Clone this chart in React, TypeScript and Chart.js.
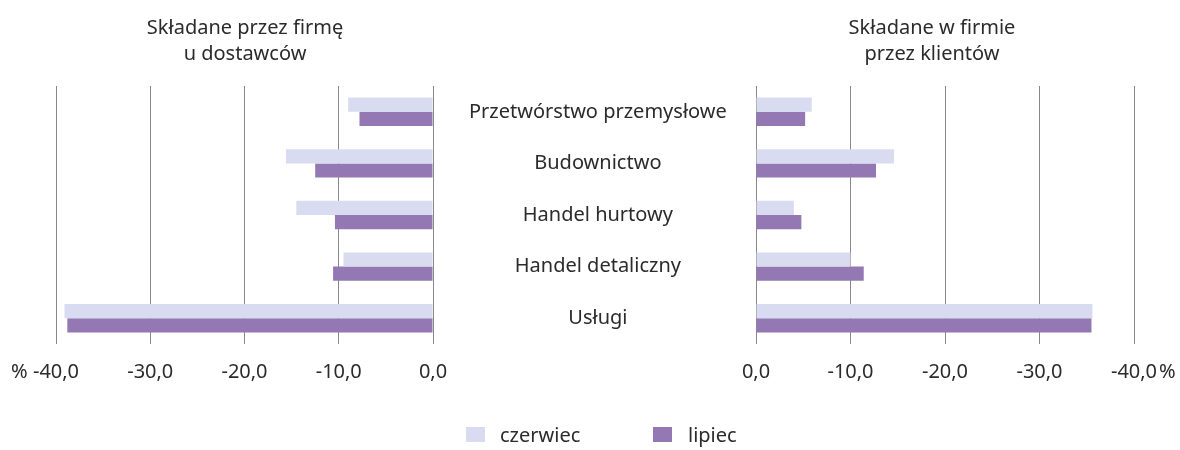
import React, { useEffect, useRef } from 'react';
import { Chart, registerables } from 'chart.js';

Chart.register(...registerables);

const categories = [
  'Przetwórstwo przemysłowe',
  'Budownictwo',
  'Handel hurtowy',
  'Handel detaliczny',
  'Usługi',
];
const seriesNames = ['czerwiec', 'lipiec'];
const suppliersJune = [-9.0, -15.6, -14.5, -9.5, -39.1];
const suppliersJuly = [-7.8, -12.5, -10.4, -10.6, -38.8];
const clientsJune = [-5.9, -14.6, -4.0, -10.0, -35.6];
const clientsJuly = [-5.2, -12.7, -4.8, -11.4, -35.5];
const axisMin = -40;
const axisMax = 0;
const axisStep = 10;
const leftTitle = ['Składane przez firmę', 'u dostawców'];
const rightTitle = ['Składane w firmie', 'przez klientów'];

const COLORS = ['#D9DBF0', '#9478B4'];
const TEXT = '#2b2b2b';
const GRID = '#888888';
const FONT = '"Noto Sans", "Open Sans", sans-serif';
const FS = 20;

const fmt = (v: number) => Number(v).toFixed(1).replace('.', ',');

function makeConfig(side: 'left' | 'right', june: number[], july: number[]): any {
  const isLeft = side === 'left';
  const y: any = {
    display: isLeft,
    position: 'right',
    grid: { display: false },
    border: { display: false },
    ticks: {
      crossAlign: 'center',
      padding: 28,
      color: TEXT,
      font: { family: FONT, size: FS },
    },
  };
  if (isLeft) {
    y.afterFit = (s: any) => {
      s.width = 323;
    };
  }
  return {
    type: 'bar',
    data: {
      labels: categories,
      datasets: [
        { label: seriesNames[0], data: june, backgroundColor: COLORS[0], categoryPercentage: 0.55, barPercentage: 1 },
        { label: seriesNames[1], data: july, backgroundColor: COLORS[1], categoryPercentage: 0.55, barPercentage: 1 },
      ],
    },
    options: {
      indexAxis: 'y',
      animation: false,
      responsive: false,
      maintainAspectRatio: false,
      layout: {
        padding: isLeft
          ? { left: 56, right: 424, top: 86, bottom: 66 }
          : { left: 756, right: 46, top: 86, bottom: 66 },
      },
      plugins: {
        legend: { display: false },
        tooltip: { enabled: false },
        title: { display: false },
      },
      scales: {
        x: {
          min: axisMin,
          max: axisMax,
          reverse: !isLeft,
          ticks: {
            stepSize: axisStep,
            callback: (v: any) => fmt(v),
            color: TEXT,
            font: { family: FONT, size: FS },
            padding: 16,
            maxRotation: 0,
            autoSkip: false,
          },
          grid: { color: GRID, lineWidth: 1, drawTicks: false },
          border: { display: false },
          afterFit: (s: any) => {
            s.height = 40;
          },
        },
        y,
      },
    },
  };
}

export default function App() {
  const leftRef = useRef<HTMLCanvasElement>(null);
  const rightRef = useRef<HTMLCanvasElement>(null);

  useEffect(() => {
    const l = new Chart(leftRef.current!, makeConfig('left', suppliersJune, suppliersJuly));
    const r = new Chart(rightRef.current!, makeConfig('right', clientsJune, clientsJuly));
    return () => {
      l.destroy();
      r.destroy();
    };
  }, []);

  const textStyle: React.CSSProperties = {
    position: 'absolute',
    fontFamily: FONT,
    fontSize: FS,
    color: TEXT,
    whiteSpace: 'nowrap',
  };

  return (
    <div style={{ position: 'absolute', left: 0, top: 0, width: 1180, height: 450, background: '#fff', overflow: 'hidden' }}>
      <canvas ref={leftRef} width={1180} height={450} style={{ position: 'absolute', left: 0, top: 0 }} />
      <canvas ref={rightRef} width={1180} height={450} style={{ position: 'absolute', left: 0, top: 0 }} />
      <div style={{ ...textStyle, left: 245, top: 14, transform: 'translateX(-50%)', textAlign: 'center', lineHeight: '26px' }}>
        {leftTitle[0]}<br />{leftTitle[1]}
      </div>
      <div style={{ ...textStyle, left: 932, top: 14, transform: 'translateX(-50%)', textAlign: 'center', lineHeight: '26px' }}>
        {rightTitle[0]}<br />{rightTitle[1]}
      </div>
      <div style={{ ...textStyle, left: 11, top: 358, lineHeight: '26px' }}>%</div>
      <div style={{ ...textStyle, left: 1159, top: 358, lineHeight: '26px' }}>%</div>
      <div style={{ position: 'absolute', left: 466, top: 427, width: 19, height: 15, background: COLORS[0] }} />
      <div style={{ ...textStyle, left: 500, top: 422, lineHeight: '26px' }}>{seriesNames[0]}</div>
      <div style={{ position: 'absolute', left: 653, top: 427, width: 19, height: 15, background: COLORS[1] }} />
      <div style={{ ...textStyle, left: 688, top: 422, lineHeight: '26px' }}>{seriesNames[1]}</div>
    </div>
  );
}
